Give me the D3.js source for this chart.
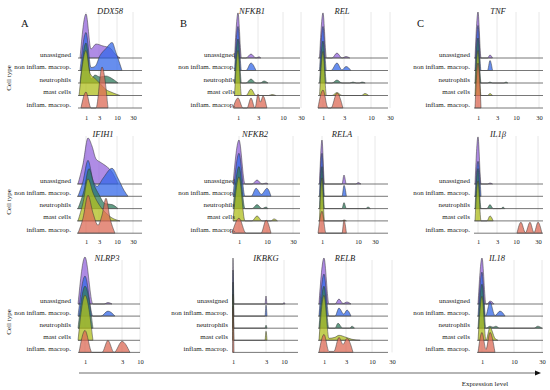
<!DOCTYPE html>
<html>
<head>
<meta charset="utf-8">
<style>
body { margin: 0; background: #fff; }
svg, svg text { font-family: "Liberation Serif", "Times New Roman", "DejaVu Serif", serif; }
.label { font-size: 7px; fill: #222; text-anchor: end; }
.title { font-size: 8.5px; font-style: italic; fill: #222; text-anchor: middle; }
.axis text { font-family: "Liberation Serif", "Times New Roman", serif; font-size: 6.5px; fill: #222; }
.grid { stroke: #e2e2e2; stroke-width: 0.8; }
.base { stroke: #555; stroke-width: 0.8; }
.ridge { stroke: #333; stroke-width: 0.6; stroke-opacity: 0.85; fill-opacity: 0.75; }
.letter { font-size: 10.5px; fill: #111; }
.side { font-size: 7px; fill: #222; text-anchor: middle; }
</style>
</head>
<body>
<svg width="550" height="390"></svg>
<script src="https://cdn.jsdelivr.net/npm/d3@7"></script>
<script>

// categories and genes
var cellTypes = ["unassigned", "non inflam. macrop.", "neutrophils", "mast cells", "inflam. macrop."];
var genes = ["DDX58", "IFIH1", "NLRP3", "NFKB1", "NFKB2", "IKBKG", "REL", "RELA", "RELB", "TNF", "IL1\u03b2", "IL18"];

// tick labels
var ticks4 = [1, 3, 10, 30];
var ticks110 = [1, 10, 30];
var ticks3 = [1, 3, 10];

// ridges: one list per cell type, points are [expression level, density]
var DDX58 = [
  [[0.5,0],[1,4.4],[1.77,0.9],[2.54,1.4],[4.56,1.2],[7.3,1.0],[9.2,0.4],[13.8,0]],
  [[0.5,0],[1,3.8],[1.77,0.3],[2.38,0.4],[3.4,1.5],[5.7,2.2],[8.1,2.8],[9.6,1.8],[16.3,0]],
  [[0.5,0],[1,4.0],[1.77,0.4],[2.38,0.8],[3.4,0.6],[5.7,0.7],[7.7,0.5],[11.3,0]],
  [[0.42,0],[1,4.5],[1.62,2.2],[2.38,1.7],[3.4,1.2],[5.7,0.6],[8.1,0.3],[13.8,0]],
  [[0.58,0],[1,1.6],[1.77,0],[2.54,0],[4.17,4.1],[6.5,0]]
];
var IFIH1 = [
  [[0.33,0],[0.75,2.0],[1.31,4.6],[1.92,3.8],[2.54,2.5],[3.39,2.2],[5.72,1.8],[8.06,1.2],[11.25,0]],
  [[0.33,0],[0.75,1.5],[1.31,3.6],[2.08,1.6],[2.69,1.0],[4.56,1.8],[8.06,2.8],[11.25,1.8],[18.75,0.6],[23.75,0]],
  [[0.33,0],[0.83,1.8],[1.46,4.0],[2.23,2.4],[3,1.4],[5.33,0.5],[8.06,0.4],[11.25,0]],
  [[0.33,0],[0.75,1.8],[1.31,4.2],[2.08,2.8],[2.85,1.8],[4.94,1.0],[8.06,0.3],[13.75,0]],
  [[0.33,0],[0.75,1.5],[1.31,3.8],[2.08,2.0],[2.85,0.8],[4.17,1.8],[5.72,3.5],[7.28,1.5],[9.22,0]]
];
var NLRP3 = [
  [[0.42,0],[1,4.7],[1.43,0],[2.03,0],[2.24,0.15],[2.46,0]],
  [[0.42,0],[1,4.0],[1.43,0],[1.86,0],[2.24,0.5],[2.62,0]],
  [[0.42,0],[1,4.2],[1.43,0]],
  [[0.42,0],[1,4.5],[1.43,0]],
  [[0.5,0],[1,2.2],[1.38,0],[1.92,0],[2.24,1.2],[2.57,0],[3,1.1],[6.1,0]]
];
var NFKB1 = [
  [[0.71,0],[1,4.5],[1.35,0],[1.8,0],[2.3,0.4],[2.8,0],[3.28,0.12],[3.8,0]],
  [[0.71,0],[1,4.4],[1.35,0],[1.8,0],[2.3,0.75],[2.8,0]],
  [[0.71,0],[1,4.4],[1.35,0],[1.8,0],[2.3,0.4],[2.8,0],[3.6,0],[4.7,0.2],[5.8,0]],
  [[0.71,0],[1,4.5],[1.35,0],[1.8,0],[2.3,0.65],[2.8,0],[6.0,0],[6.9,0.1],[8,0]],
  [[0.58,0],[1,1.0],[1.5,0],[1.9,0],[2.3,1.0],[2.7,0],[3,1.4],[3.7,0.6],[4.4,1.2],[5.5,0]]
];
var NFKB2 = [
  [[0.5,0],[1,4.4],[2.93,0],[5.2,0],[6.8,0.4],[8.4,0],[9.7,0.1],[10.8,0]],
  [[0.5,0],[1,4.3],[2.93,0],[4.9,0],[6.5,0.8],[8.2,0.2],[10,0.8],[13.1,0]],
  [[0.5,0],[1,4.2],[2.93,0],[5.2,0],[6.8,0.4],[8.4,0],[9.7,0.15],[10.8,0]],
  [[0.5,0],[1,4.4],[2.93,0],[5.2,0],[6.8,0.5],[8.4,0],[13,0],[15.4,0.2],[18,0]],
  [[0.42,0],[1,1.5],[3.25,0],[8.07,0],[9.7,1.3],[13.1,0]]
];
var IKBKG = [
  [[0.96,0],[1,4.6],[1.06,0],[2.94,0],[3,0.8],[3.4,0],[9.6,0],[10,0.15],[10.4,0]],
  [[0.96,0],[1,4.6],[1.06,0],[2.94,0],[3,1.1],[3.4,0]],
  [[0.96,0],[1,4.6],[1.06,0],[2.94,0],[3,0.3],[3.4,0]],
  [[0.96,0],[1,4.6],[1.06,0],[2.94,0],[3,0.9],[3.4,0]],
  [[0.96,0],[1,4.6],[1.06,0]]
];
var REL = [
  [[0.71,0],[1,4.5],[1.33,0],[1.86,0],[2.33,0.5],[2.81,0],[3.52,0.15],[4.5,0]],
  [[0.71,0],[1,4.4],[1.33,0],[1.76,0],[2.33,0.75],[2.81,0.05],[3.52,0.4],[4.8,0]],
  [[0.71,0],[1,4.2],[1.33,0],[1.86,0],[2.33,0.3],[2.81,0],[4.5,0],[5.33,0.1],[6.2,0],[7.0,0],[7.66,0.1],[8.5,0]],
  [[0.71,0],[1,4.4],[1.33,0],[1.86,0],[2.33,0.3],[2.81,0],[7.5,0],[8.44,0.2],[9.4,0]],
  [[0.58,0],[1,1.8],[1.48,0],[1.76,0],[2.33,1.5],[2.9,0]]
];
var RELA = [
  [[0.79,0],[1,4.4],[1.63,0],[6,0],[6.5,0.9],[7.1,0],[9.5,0],[10,0.15],[13.5,0]],
  [[0.79,0],[1,4.3],[1.63,0],[6,0],[6.5,1.1],[7.1,0]],
  [[0.79,0],[1,4.2],[1.63,0],[6,0],[6.5,0.6],[7.1,0],[19,0],[21.8,0.15],[24.5,0]],
  [[0.79,0],[1,4.3],[1.63,0],[6,0],[6.5,0.1],[7.1,0]],
  [[0.67,0],[1,2.2],[2,0],[6,0],[6.5,1.3],[7.1,0]]
];
var RELB = [
  [[0.58,0],[1,4.6],[1.45,0],[2.0,0],[2.36,0.5],[2.73,0.05],[3.27,0.2],[4.35,0]],
  [[0.58,0],[1,4.2],[1.45,0],[2.0,0],[2.36,0.8],[2.8,0.2],[3.27,0.6],[4.35,0]],
  [[0.58,0],[1,4.2],[1.45,0],[2.0,0],[2.27,0.5],[2.7,0],[4.0,0],[4.6,0.2],[5.3,0]],
  [[0.58,0],[1,4.5],[1.45,0.2],[2.0,0.3],[2.36,0.5],[3.0,0.3],[4.6,0.1],[6.8,0]],
  [[0.58,0],[1,1.8],[1.45,0.1],[1.9,0.1],[2.36,1.5],[2.73,0.8],[3.27,1.4],[4.9,0]]
];
var TNF = [
  [[0.75,0],[1,4.6],[1.32,0],[2.0,0],[2.26,0.3],[2.53,0]],
  [[0.75,0],[1,4.5],[1.32,0],[2.0,0],[2.26,1.0],[2.53,0]],
  [[0.75,0],[1,4.5],[1.32,0],[2.0,0],[2.26,0.1],[2.53,0],[5.6,0],[6.3,0.1],[7.0,0]],
  [[0.75,0],[1,4.5],[1.32,0],[2.0,0],[2.26,0.2],[2.53,0]],
  [[0.75,0],[1,4.5],[1.32,0]]
];
var IL1B = [
  [[0.75,0],[1,4.7],[1.32,0],[2.0,0],[2.26,0.1],[2.53,0]],
  [[0.75,0],[1,3.5],[1.32,0]],
  [[0.75,0],[1,4.0],[1.32,0],[1.95,0],[2.26,0.4],[2.6,0],[4.5,0],[5.2,0.15],[5.9,0]],
  [[0.75,0],[1,4.0],[1.32,0],[1.95,0],[2.26,0.5],[2.6,0]],
  [[10.9,0],[14.5,1.1],[18.6,0.05],[22.7,1.1],[26.4,0.05],[30,1.1],[33.6,0]]
];
var IL18 = [
  [[0.67,0],[1,4.6],[2.12,0],[2.4,0],[3.25,0.3],[4.4,0]],
  [[0.67,0],[1,4.4],[2.0,0],[3.25,1.4],[4.65,0.05],[6.06,0.5],[7.5,0]],
  [[0.67,0],[1,4.4],[2.12,0],[3.25,0.2],[4.1,0.1],[4.9,0.2],[6,0],[24.3,0],[27,0.2],[30,0]],
  [[0.67,0],[1,4.4],[2.12,0],[3.25,1.3],[4.65,0.2],[5.5,0]],
  [[0.67,0],[1,2.0],[2.12,0.3],[3.25,2.0],[4.65,0]]
];

// fill per cell type
var colors = ["#9466dc", "#3468e8", "#2f7b5c", "#afbd1c", "#dc6a55"];

// layout
var rows = [
  {base: 58, step: 12.5, top: 12, tick: 115.5, title: 14},
  {base: 184, step: 12.3, top: 136, tick: 239.5, title: 137},
  {base: 304, step: 12.1, top: 260, tick: 359.5, title: 261}
];

var panels = [
  {gene: 0, data: DDX58, ticks: ticks4, px: [86, 99, 117, 133], x0: 78, x1: 142, row: 0, lab: 71, tx: 110},
  {gene: 1, data: IFIH1, ticks: ticks4, px: [86, 99, 117, 133], x0: 77, x1: 142, row: 1, lab: 71, tx: 103},
  {gene: 2, data: NLRP3, ticks: ticks3, px: [85, 122, 140], x0: 78, x1: 140, row: 2, lab: 71, tx: 107},
  {gene: 3, data: NFKB1, ticks: ticks4, px: [238, 258, 283, 301], x0: 234, x1: 300, row: 0, lab: 235, tx: 252},
  {gene: 4, data: NFKB2, ticks: ticks110, px: [239, 267, 293], x0: 233, x1: 300, row: 1, lab: 235, tx: 255},
  {gene: 5, data: IKBKG, ticks: ticks3, px: [233, 266, 284], x0: 233, x1: 298, row: 2, lab: 228, tx: 266},
  {gene: 6, data: REL, ticks: ticks4, px: [323, 344, 371, 390], x0: 318, x1: 388, row: 0, lab: 0, tx: 342},
  {gene: 7, data: RELA, ticks: ticks110, px: [322, 358, 375], x0: 318, x1: 388, row: 1, lab: 0, tx: 342},
  {gene: 8, data: RELB, ticks: ticks4, px: [324, 346, 372, 392], x0: 318, x1: 388, row: 2, lab: 0, tx: 345},
  {gene: 9, data: TNF, ticks: ticks4, px: [478, 497, 516, 539], x0: 474, x1: 543, row: 0, lab: 470, tx: 498},
  {gene: 10, data: IL1B, ticks: ticks4, px: [478, 497, 516, 538], x0: 474, x1: 543, row: 1, lab: 470, tx: 498},
  {gene: 11, data: IL18, ticks: ticks110, px: [482, 514, 542], x0: 477, x1: 543, row: 2, lab: 470, tx: 497}
];

var svg = d3.select("svg");

// density -> pixels
var h = d3.scaleLinear().domain([0, 5]).range([0, 50]);

panels.forEach(function(p) {
  var r = rows[p.row];
  // piecewise scale, one segment per tick
  var x = d3.scaleLinear()
    .domain([0.5].concat(p.ticks))
    .range([p.px[0] - 6].concat(p.px));
  var g = svg.append("g");
  var bottom = r.base + 4 * r.step;

  g.selectAll(".grid").data(p.ticks).enter().append("line")
    .attr("class", "grid")
    .attr("x1", x).attr("x2", x)
    .attr("y1", r.top).attr("y2", bottom);

  p.data.forEach(function(ridge, i) {
    var y0 = r.base + i * r.step;
    var area = d3.area()
      .x(function(d) { return x(d[0]) })
      .y0(y0)
      .y1(function(d) { return y0 - h(d[1]) })
      .curve(d3.curveMonotoneX);

    g.append("path").datum(ridge)
      .attr("class", "ridge")
      .attr("fill", colors[i])
      .attr("d", area);

    g.append("line")
      .attr("class", "base")
      .attr("x1", p.x0).attr("x2", p.x1)
      .attr("y1", y0).attr("y2", y0);

    if (p.lab) {
      g.append("text")
        .attr("class", "label")
        .attr("x", p.lab)
        .attr("y", y0 - 1.5)
        .text(cellTypes[i]);
    }
  });

  g.append("g")
    .attr("class", "axis")
    .attr("transform", "translate(0," + r.tick + ")")
    .call(d3.axisBottom(x).tickValues(p.ticks).tickSize(0).tickPadding(0).tickFormat(d3.format("d")))
    .call(function(a) { a.select(".domain").remove() });

  g.append("text")
    .attr("class", "title")
    .attr("x", p.tx)
    .attr("y", r.title)
    .text(genes[p.gene]);
});

// panel letters
svg.append("text").attr("class", "letter").attr("x", 21).attr("y", 27).text("A");
svg.append("text").attr("class", "letter").attr("x", 180).attr("y", 27).text("B");
svg.append("text").attr("class", "letter").attr("x", 417).attr("y", 27).text("C");

// y titles
[78, 202, 322].forEach(function(cy) {
  svg.append("text")
    .attr("class", "side")
    .attr("transform", "translate(11," + cy + ") rotate(-90)")
    .text("Cell type");
});

// expression arrow
svg.append("line")
  .attr("x1", 79).attr("x2", 535)
  .attr("y1", 373).attr("y2", 373)
  .attr("stroke", "#b5b5b5").attr("stroke-width", 2);
svg.append("path")
  .attr("d", "M535,370.5L541,373L535,375.5Z")
  .attr("fill", "#111");
svg.append("text")
  .attr("class", "side")
  .attr("x", 485).attr("y", 386)
  .text("Expression level");

</script>
</body>
</html>
